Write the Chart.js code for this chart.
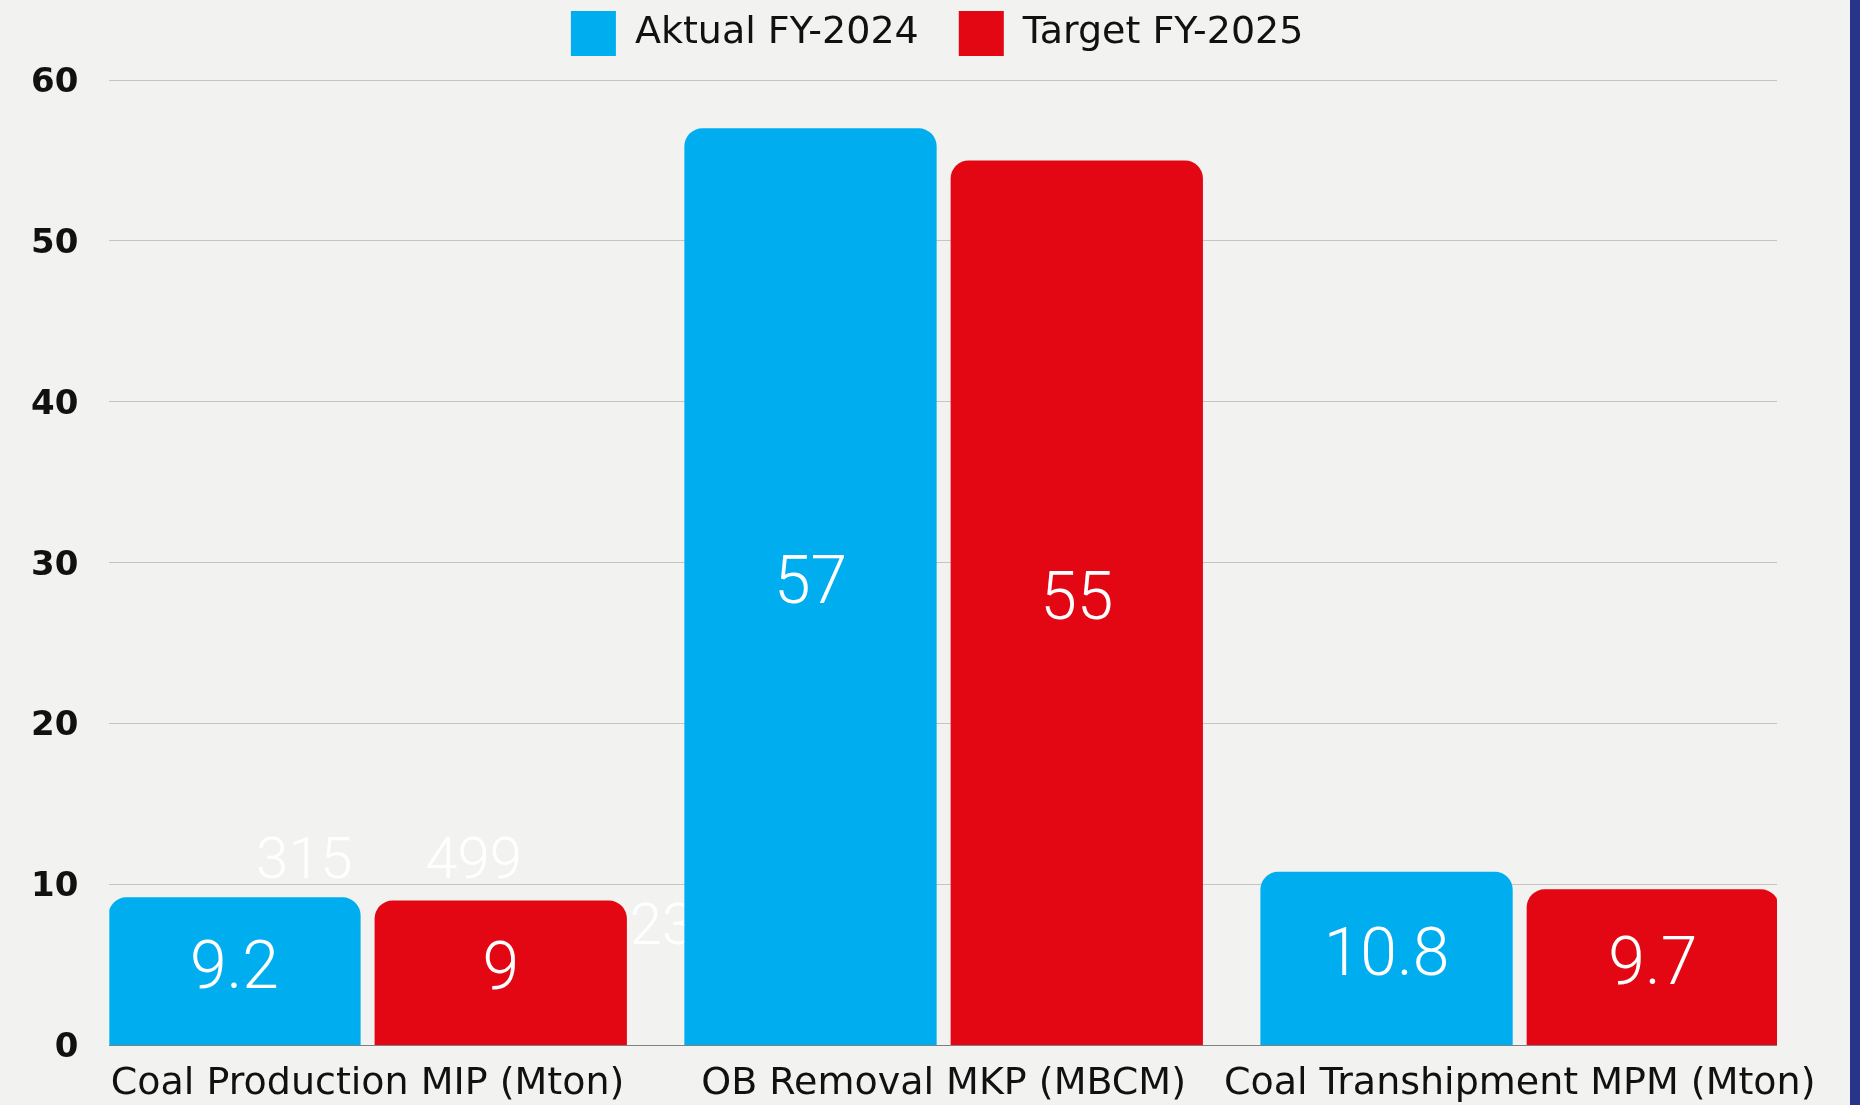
<!DOCTYPE html>
<html>
<head>
<meta charset="utf-8">
<script src="https://cdn.jsdelivr.net/npm/chart.js@4/dist/chart.umd.min.js"></script>
<style>
html,body{margin:0;padding:0;background:#f2f2f0;overflow:hidden}
canvas{display:block}
</style>
</head>
<body>
<canvas id="c" width="1860" height="1105"></canvas>
<script>
// ---- data ----
const categories = ['Coal Production MIP (Mton)', 'OB Removal MKP (MBCM)', 'Coal Transhipment MPM (Mton)'];
const seriesNames = ['Aktual FY-2024', 'Target FY-2025'];
const aktualFY2024 = [9.2, 57, 10.8];
const targetFY2025 = [9, 55, 9.7];
const yTickValues = [0, 10, 20, 30, 40, 50, 60];
// faint stray labels visible in the reference (text, x in category units, y in value units)
const faintLabels = ['315', '499', '23'];
const faintLabelX = [-0.11, 0.184, 0.511];
const faintLabelY = [11.3, 11.3, 7.2];

const seriesColors = ['#00AEEF', '#E30613'];

const toPoints = arr => arr.map((v, i) => ({ x: i, y: v }));

const bgPlugin = {
  id: 'bg',
  beforeDraw(chart) {
    const { ctx, width, height } = chart;
    ctx.save();
    ctx.fillStyle = '#f2f2f0';
    ctx.fillRect(0, 0, width, height);
    ctx.fillStyle = '#283489';
    ctx.fillRect(width - 10, 0, 10, height);
    ctx.restore();
  }
};

const legendPlace = {
  id: 'legendPlace',
  beforeLayout(chart) {
    const lg = chart.legend;
    if (lg && !lg._wrappedFit) {
      const f = lg.fit;
      lg.fit = function () { f.call(this); this.height = 80; };
      lg._wrappedFit = true;
    }
  },
  afterLayout(chart) {
    const lg = chart.legend, a = chart.chartArea;
    lg.left = a.left - 6;
    lg.right = a.right - 6;
    lg.top = 11 - 40;
    lg.bottom = a.top;
  }
};

const faintPlugin = {
  id: 'faint',
  beforeDatasetsDraw(chart) {
    const { ctx } = chart;
    const xs = chart.scales.x, ys = chart.scales.y;
    ctx.save();
    ctx.fillStyle = '#ffffff';
    ctx.font = '300 58px Roboto';
    ctx.textAlign = 'center';
    ctx.textBaseline = 'middle';
    faintLabels.forEach((t, i) => {
      ctx.fillText(t, xs.getPixelForValue(faintLabelX[i]), ys.getPixelForValue(faintLabelY[i]));
    });
    ctx.restore();
  }
};

const valueLabels = {
  id: 'valueLabels',
  afterDatasetsDraw(chart) {
    const { ctx } = chart;
    ctx.save();
    ctx.fillStyle = '#ffffff';
    ctx.font = '300 66px Roboto';
    ctx.textAlign = 'center';
    ctx.textBaseline = 'middle';
    chart.data.datasets.forEach((ds, di) => {
      chart.getDatasetMeta(di).data.forEach((el, i) => {
        ctx.fillText(String(ds.data[i].y), el.x, (el.y + el.base) / 2);
      });
    });
    ctx.restore();
  }
};

new Chart(document.getElementById('c'), {
  type: 'bar',
  data: {
    datasets: [
      { label: seriesNames[0], data: toPoints(aktualFY2024), backgroundColor: seriesColors[0], borderWidth: 0, borderRadius: 18, borderSkipped: 'start' },
      { label: seriesNames[1], data: toPoints(targetFY2025), backgroundColor: seriesColors[1], borderWidth: 0, borderRadius: 18, borderSkipped: 'start' }
    ]
  },
  options: {
    responsive: false,
    animation: false,
    devicePixelRatio: 1,
    categoryPercentage: 0.9245,
    barPercentage: 0.9475,
    layout: { padding: { left: 0, right: 83, top: 0, bottom: -18 } },
    plugins: {
      legend: {
        position: 'top',
        align: 'center',
        labels: {
          boxWidth: 45,
          boxHeight: 45,
          padding: 40,
          color: '#111111',
          font: { family: 'DejaVu Sans', size: 38 }
        }
      },
      tooltip: { enabled: false }
    },
    scales: {
      x: {
        type: 'linear',
        offset: false,
        min: -0.4484,
        max: 2.4467,
        afterBuildTicks: ax => { ax.ticks = categories.map((_, i) => ({ value: i })); },
        ticks: {
          autoSkip: false,
          maxRotation: 0,
          minRotation: 0,
          padding: 16,
          color: '#111111',
          font: { family: 'DejaVu Sans', size: 38, lineHeight: 1.2 },
          callback: v => categories[v]
        },
        grid: { display: false, drawTicks: false },
        border: { display: false }
      },
      y: {
        min: 0,
        max: 60,
        afterBuildTicks: ax => { ax.ticks = yTickValues.map(v => ({ value: v })); },
        ticks: {
          padding: 31,
          labelOffset: 3,
          color: '#111111',
          font: { family: 'DejaVu Sans', size: 34, weight: 'bold' }
        },
        grid: {
          drawTicks: false,
          lineWidth: 1,
          color: c => (c.tick && c.tick.value === 0) ? '#808080' : '#c4c4c4'
        },
        border: { display: false }
      }
    }
  },
  plugins: [bgPlugin, legendPlace, faintPlugin, valueLabels]
});
</script>
</body>
</html>
